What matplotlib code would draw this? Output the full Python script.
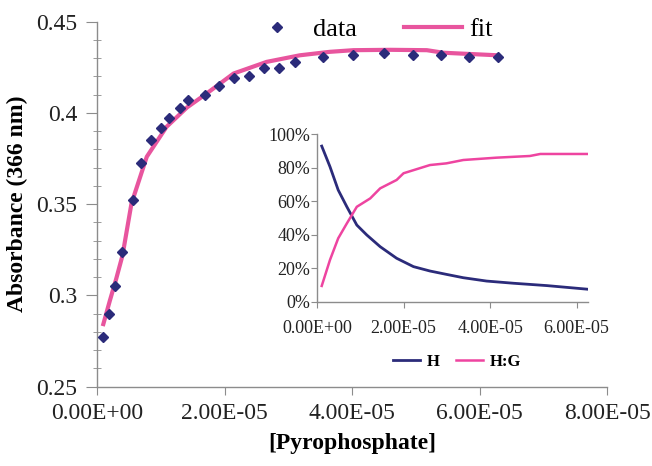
import matplotlib
matplotlib.use("Agg")
import matplotlib.pyplot as plt
from matplotlib.ticker import MultipleLocator, FuncFormatter, PercentFormatter

plt.rcParams['font.family'] = ['Liberation Serif', 'DejaVu Serif']

# Main data (absorbance vs pyrophosphate)
data_x = [0.99e-6, 1.93e-6, 2.87e-6, 3.92e-6, 5.6e-6, 6.86e-6, 8.4e-6, 1.01e-5, 1.13e-5,
          1.30e-5, 1.43e-5, 1.69e-5, 1.91e-5, 2.14e-5, 2.39e-5, 2.62e-5, 2.86e-5, 3.10e-5,
          3.55e-5, 4.02e-5, 4.50e-5, 4.95e-5, 5.40e-5, 5.83e-5, 6.28e-5]
data_y = [0.277, 0.2897, 0.3053, 0.3236, 0.3522, 0.3725, 0.385, 0.392, 0.3975,
          0.4025, 0.407, 0.410, 0.4147, 0.4194, 0.4201, 0.4249, 0.4247, 0.428,
          0.4304, 0.4320, 0.4329, 0.4316, 0.432, 0.4304, 0.4304]

fit_x = [0.99e-6, 2e-6, 3e-6, 4e-6, 5.4e-6, 7.8e-6, 1.09e-5, 1.41e-5, 1.72e-5, 2.14e-5,
         2.66e-5, 3.18e-5, 3.65e-5, 4.02e-5, 4.6e-5, 5.17e-5, 5.43e-5, 6.28e-5]
fit_y = [0.2843, 0.297, 0.309, 0.322, 0.3504, 0.376, 0.3924, 0.403, 0.4107, 0.4216,
         0.428, 0.4316, 0.4335, 0.4344, 0.4346, 0.4344, 0.433, 0.4316]

# Inset: species distribution
h_x = [1.09e-6, 3.0e-6, 4.9e-6, 6.9e-6, 9.2e-6, 1.15e-5, 1.46e-5, 1.84e-5, 2.23e-5,
       2.61e-5, 2.99e-5, 3.38e-5, 3.92e-5, 4.54e-5, 5.31e-5, 6.27e-5]
h_y = [0.928, 0.805, 0.666, 0.566, 0.457, 0.398, 0.328, 0.259, 0.209,
       0.183, 0.163, 0.143, 0.123, 0.110, 0.096, 0.074]
hg_x = [1.09e-6, 3.0e-6, 4.9e-6, 6.9e-6, 9.2e-6, 1.23e-5, 1.46e-5, 1.84e-5, 2.0e-5,
        2.61e-5, 2.99e-5, 3.38e-5, 4.15e-5, 4.92e-5, 5.16e-5, 6.27e-5]
hg_y = [0.094, 0.249, 0.378, 0.467, 0.566, 0.616, 0.676, 0.726, 0.766,
        0.815, 0.825, 0.845, 0.859, 0.869, 0.881, 0.881]

navy = '#2B2B7A'
pink = '#E8559E'
gray = '#8C8C8C'

fig = plt.figure(figsize=(6.52, 4.66), dpi=100)
ax = fig.add_axes([0.1488, 0.1702, 0.9315 - 0.1488, 0.9534 - 0.1702])

ax.plot(data_x, data_y, linestyle='none', marker='D', markersize=5.6, color=navy, label='data', zorder=3)
ax.plot(fit_x, fit_y, color=pink, linewidth=3, label='fit', zorder=2)

ax.set_xlim(0, 8e-5)
ax.set_ylim(0.25, 0.45)
ax.xaxis.set_major_locator(MultipleLocator(2e-5))
ax.yaxis.set_major_locator(MultipleLocator(0.05))
ax.yaxis.set_minor_locator(MultipleLocator(0.01))
ax.xaxis.set_major_formatter(FuncFormatter(lambda v, p: '%.2E' % v))
ax.yaxis.set_major_formatter(FuncFormatter(lambda v, p: ('%.2f' % v).rstrip('0').rstrip('.') if v else '0'))
for s in ['top', 'right']:
    ax.spines[s].set_visible(False)
for s in ['left', 'bottom']:
    ax.spines[s].set_color(gray)
    ax.spines[s].set_linewidth(1.0)
ax.tick_params(axis='both', which='major', labelsize=17, colors='#222222', color=gray)
ax.tick_params(axis='y', which='major', length=8, direction='out', pad=6)
ax.tick_params(axis='y', which='minor', length=6, direction='inout', color=gray)
ax.tick_params(axis='x', which='major', length=6, direction='out', pad=6)
ax.set_xlabel('[Pyrophosphate]', fontsize=17, fontweight='bold', labelpad=6)
ax.set_ylabel('Absorbance (366 nm)', fontsize=17, fontweight='bold', labelpad=6)

leg = ax.legend(loc='upper left', bbox_to_anchor=(0.25, 1.077), ncol=2, frameon=False,
                fontsize=19, handlelength=2.2, columnspacing=1.8, handletextpad=0.25)

# Inset
ins = fig.add_axes([0.4862, 0.3526, 0.9023 - 0.4862, 0.7124 - 0.3526])
ins.set_facecolor('white')
ins.plot(h_x, h_y, color=navy, linewidth=2, label='H')
ins.plot(hg_x, hg_y, color='#EE44A0', linewidth=1.8, label='H:G')
ins.set_xlim(0, 6.27e-5)
ins.set_ylim(0, 1.0)
ins.xaxis.set_major_locator(MultipleLocator(2e-5))
ins.yaxis.set_major_locator(MultipleLocator(0.2))
ins.xaxis.set_major_formatter(FuncFormatter(lambda v, p: '%.2E' % v))
ins.yaxis.set_major_formatter(PercentFormatter(1.0, decimals=0))
for s in ['top', 'right']:
    ins.spines[s].set_visible(False)
for s in ['left', 'bottom']:
    ins.spines[s].set_color(gray)
    ins.spines[s].set_linewidth(1.0)
ins.tick_params(axis='both', labelsize=13, colors='#222222', color=gray, length=4)
ins.tick_params(axis='x', pad=9)
ins.tick_params(axis='y', pad=1)
ins.legend(loc='upper center', bbox_to_anchor=(0.517, -0.22), ncol=2, frameon=False,
           prop={'size': 12, 'weight': 'bold'}, handlelength=1.6, columnspacing=1.0,
           handletextpad=0.4)

fig.savefig('out.png', dpi=100)
